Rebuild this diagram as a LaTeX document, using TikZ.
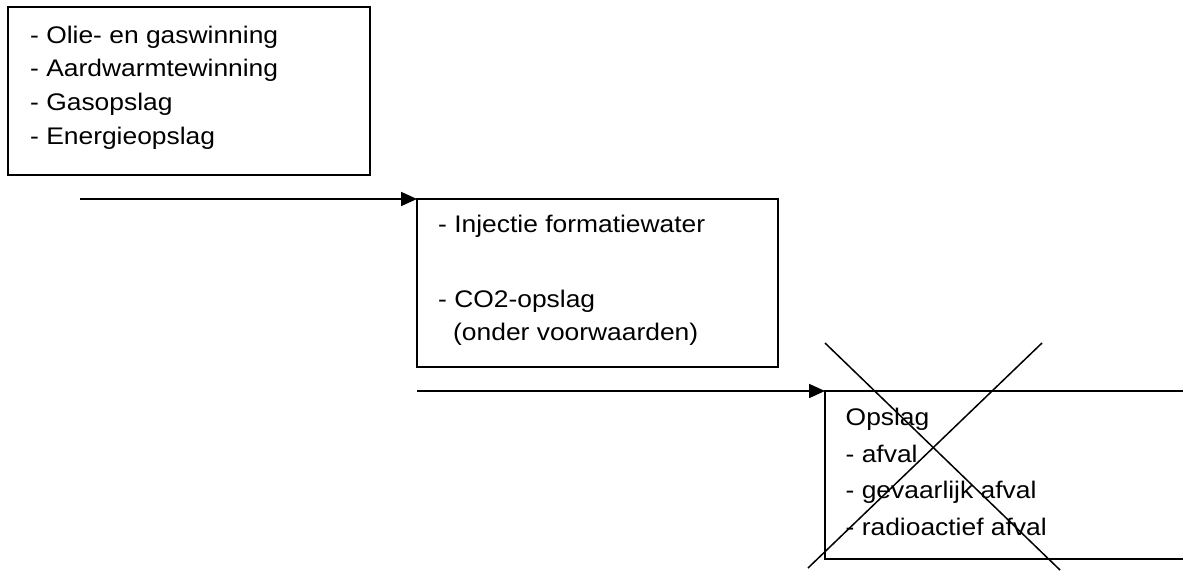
\documentclass[tikz,border=0pt]{standalone}
\usepackage{fontspec}
\setmainfont{Liberation Sans}[FakeStretch=1.1]
\usetikzlibrary{arrows.meta}

\begin{document}
\begin{tikzpicture}[x=1pt,y=-1pt,
    box/.style={draw, line width=1.8pt, inner sep=0pt, outer sep=0pt, minimum height=168pt, anchor=north west},
    txt/.style={anchor=base west, inner sep=0pt, font=\fontsize{24}{28}\selectfont},
    flow/.style={-{Triangle[length=16pt,width=14pt]}, line width=1.8pt}]
                \clip (0,0) rectangle (1183,577);

                % Box 1
                \node[box, minimum width=362pt] (b1) at (8,7) {};
                \node[txt] (t11) at (30,43.3) {- Olie- en gaswinning};
                \node[txt] (t12) at (30,76.9) {- Aardwarmtewinning};
                \node[txt] (t13) at (30,110.6) {- Gasopslag};
                \node[txt] (t14) at (30,144.3) {- Energieopslag};

                % Box 2
                \node[box, minimum width=361pt] (b2) at (417,199) {};
                \node[txt] (t21) at (438,232.3) {- Injectie formatiewater};
                \node[txt] (t22) at (438,307.7) {- CO2-opslag};
                \node[txt] (t23) at (453,340.5) {(onder voorwaarden)};

                % Box 3 (runs off to the right)
                \node[box, minimum width=420pt] (b3) at (825,391) {};
                \node[txt] (t31) at (845.5,425.7) {Opslag};
                \node[txt] (t32) at (845.5,462.2) {- afval};
                \node[txt] (t33) at (845.5,498.7) {- gevaarlijk afval};
                \node[txt] (t34) at (845.5,535.2) {- radioactief afval};

                % Crossed out
                \draw[line width=1.5pt] (825,343) -- (1060,570);
                \draw[line width=1.5pt] (1042,343) -- (808,568);

                % Connecting lines
                \coordinate (a1) at (80,199);
                \coordinate (a2) at (417,391);
                \draw[flow] (a1) -- (b2.north west);
                \draw[flow] (a2) -- (b3.north west);
\end{tikzpicture}
\end{document}
